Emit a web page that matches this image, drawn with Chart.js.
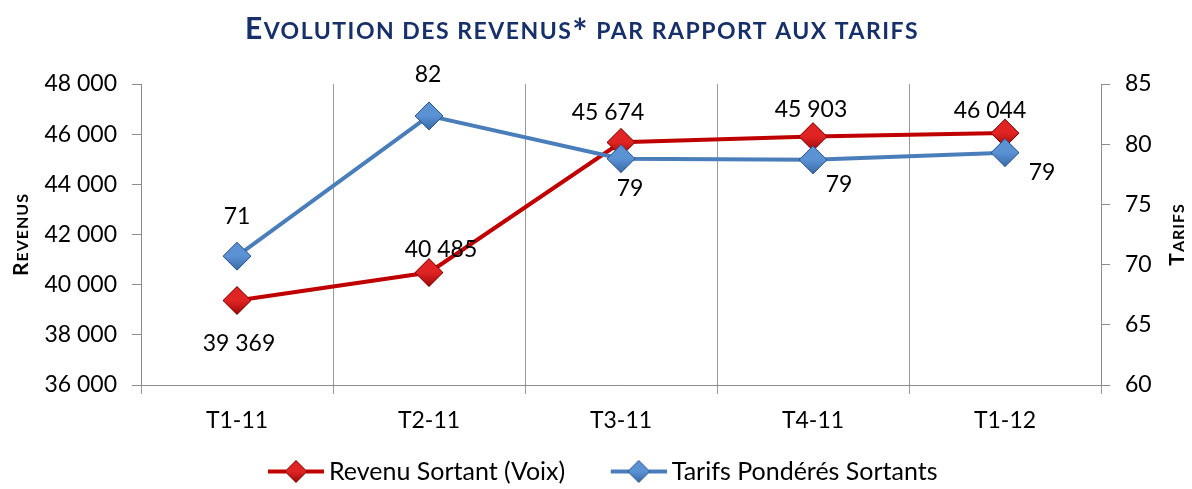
<!DOCTYPE html>
<html lang="fr">
<head>
    <meta charset="UTF-8">
    <title>Evolution des revenus</title>
    <script src="https://cdn.jsdelivr.net/npm/chart.js"></script>
    <style>
        html, body { margin: 0; padding: 0; background: #fff; }
        #wrap { width: 1192px; height: 489px; }
    </style>
</head>
<body>
    <div id="wrap"><canvas id="chart" width="1192" height="489"></canvas></div>
    <script>
        // data
        const periods = ['T1-11', 'T2-11', 'T3-11', 'T4-11', 'T1-12'];
        const revenu = [39369, 40485, 45674, 45903, 46044];
        const tarifs = [70.7, 82.35, 78.8, 78.7, 79.3];
        const tarifsLabels = ['71', '82', '79', '79', '79'];
        const revenuTicks = [36000, 38000, 40000, 42000, 44000, 46000, 48000];
        const tarifsTicks = [60, 65, 70, 75, 80, 85];

        // where each value label sits relative to its marker
        const revenuLabelPos = [[2, 43], [12, -23], [-13, -30], [-2, -27], [-15, -22]];
        const tarifsLabelPos = [[0, -40], [-1, -41], [9, 30], [26, 25], [37, 20]];

        const RED = '#c00000';
        const BLUE = '#4a7ebb';
        const NAVY = '#17306a';
        const FONT = 'Lato, "Open Sans", sans-serif';

        function fmt(v) {
            return String(Math.round(v)).replace(/\B(?=(\d{3})+(?!\d))/g, ' ');
        }

        function diamondPath(g, cx, cy, r) {
            g.beginPath();
            g.moveTo(cx, cy - r); g.lineTo(cx + r, cy); g.lineTo(cx, cy + r); g.lineTo(cx - r, cy);
            g.closePath();
        }

        // shaded diamond marker
        function diamond(r, light, dark, edge) {
            const c = document.createElement('canvas');
            c.width = c.height = 2 * r + 4;
            const g = c.getContext('2d');
            const m = r + 2;
            const grad = g.createLinearGradient(0, 2, 0, 2 * r + 2);
            grad.addColorStop(0, light);
            grad.addColorStop(0.5, light);
            grad.addColorStop(1, dark);
            diamondPath(g, m, m, r);
            g.fillStyle = grad;
            g.fill();
            g.strokeStyle = edge;
            g.lineWidth = 1;
            g.stroke();
            return c;
        }

        // legend swatch: line with diamond in the middle, blank room on the left
        function legendSwatch(color, light, dark, edge) {
            const c = document.createElement('canvas');
            c.width = 107; c.height = 26;
            const g = c.getContext('2d');
            g.strokeStyle = color;
            g.lineWidth = 4;
            g.beginPath(); g.moveTo(51, 13); g.lineTo(107, 13); g.stroke();
            g.drawImage(diamond(11, light, dark, edge), 79 - 13, 0);
            return c;
        }

        const redMarker = diamond(14, '#e02424', '#a00808', '#7a0000');
        const blueMarker = diamond(14, '#5a92d4', '#3a6aa8', '#2a5288');

        const valueLabels = {
            id: 'valueLabels',
            afterDatasetsDraw(chart) {
                const ctx = chart.ctx;
                ctx.save();
                ctx.font = '23px ' + FONT;
                ctx.fillStyle = '#000';
                ctx.textAlign = 'center';
                ctx.textBaseline = 'middle';
                chart.getDatasetMeta(0).data.forEach((p, i) => {
                    ctx.fillText(fmt(revenu[i]), p.x + revenuLabelPos[i][0], p.y + revenuLabelPos[i][1]);
                });
                chart.getDatasetMeta(1).data.forEach((p, i) => {
                    ctx.fillText(tarifsLabels[i], p.x + tarifsLabelPos[i][0], p.y + tarifsLabelPos[i][1]);
                });
                ctx.restore();
            }
        };

        // draw [font, text] pieces one after another from x on baseline y
        function drawPieces(ctx, parts, x, y, spacing) {
            parts.forEach(p => {
                ctx.font = p[0];
                ctx.letterSpacing = spacing;
                ctx.fillText(p[1], x, y + (p[2] || 0));
                x += ctx.measureText(p[1]).width;
            });
        }
        function piecesWidth(ctx, parts, spacing) {
            let w = 0;
            parts.forEach(p => { ctx.font = p[0]; ctx.letterSpacing = spacing; w += ctx.measureText(p[1]).width; });
            return w;
        }

        // small-caps titles
        const titles = {
            id: 'titles',
            afterDraw(chart) {
                const ctx = chart.ctx;
                const ca = chart.chartArea;
                const midY = (ca.top + ca.bottom) / 2;
                ctx.save();
                ctx.textAlign = 'left';
                ctx.textBaseline = 'alphabetic';
                ctx.fillStyle = NAVY;
                const head = [
                    ['bold 30px ' + FONT, 'E'],
                    ['bold 23px ' + FONT, 'VOLUTION DES REVENUS'],
                    ['bold 36px ' + FONT, '*', 6],
                    ['bold 23px ' + FONT, ' PAR RAPPORT AUX TARIFS']
                ];
                const hw = piecesWidth(ctx, head, '1.5px');
                drawPieces(ctx, head, 582 - hw / 2, 39, '1.5px');

                ctx.fillStyle = '#000';
                [[20, [['bold 21px ' + FONT, 'R'], ['bold 16px ' + FONT, 'EVENUS']]],
                 [1176, [['bold 21px ' + FONT, 'T'], ['bold 16px ' + FONT, 'ARIFS']]]].forEach(t => {
                    const w = piecesWidth(ctx, t[1], '1px');
                    ctx.save();
                    ctx.translate(t[0], midY);
                    ctx.rotate(-Math.PI / 2);
                    drawPieces(ctx, t[1], -w / 2, 7.5, '1px');
                    ctx.restore();
                });
                ctx.restore();
            }
        };

        new Chart(document.getElementById('chart'), {
            type: 'line',
            data: {
                labels: periods,
                datasets: [{
                    label: 'Revenu Sortant (Voix)',
                    data: revenu,
                    yAxisID: 'y',
                    order: 1,
                    borderColor: RED,
                    backgroundColor: RED,
                    borderWidth: 4,
                    pointStyle: redMarker,
                    pointRadius: 14,
                    tension: 0
                }, {
                    label: 'Tarifs Pondérés Sortants',
                    data: tarifs,
                    yAxisID: 'y1',
                    order: 0,
                    borderColor: BLUE,
                    backgroundColor: BLUE,
                    borderWidth: 4,
                    pointStyle: blueMarker,
                    pointRadius: 14,
                    tension: 0
                }]
            },
            options: {
                responsive: false,
                animation: false,
                // legend sits a little left of centre and low, hence the uneven padding
                layout: { padding: { left: -15, right: 15, top: 84, bottom: -5 } },
                plugins: {
                    title: { display: false },
                    legend: {
                        position: 'bottom',
                        labels: {
                            usePointStyle: true,
                            pointStyleWidth: 92,
                            color: '#000',
                            font: { family: FONT, size: 25 },
                            padding: 2,
                            generateLabels(chart) {
                                const sw = [
                                    legendSwatch(RED, '#e02424', '#a00808', '#7a0000'),
                                    legendSwatch(BLUE, '#5a92d4', '#3a6aa8', '#2a5288')
                                ];
                                return chart.data.datasets.map((d, i) => ({
                                    text: d.label,
                                    datasetIndex: i,
                                    pointStyle: sw[i],
                                    fillStyle: d.borderColor,
                                    strokeStyle: d.borderColor,
                                    lineWidth: 0,
                                    hidden: false,
                                    fontColor: '#000'
                                }));
                            }
                        }
                    },
                    tooltip: { enabled: false }
                },
                scales: {
                    x: {
                        offset: true,
                        afterFit(axis) { axis.height = 72; },
                        grid: { offset: true, color: '#9a9a9a', tickLength: 9, lineWidth: 1 },
                        border: { color: '#8c8c8c' },
                        ticks: { color: '#000', padding: 13, font: { family: FONT, size: 23 } }
                    },
                    y: {
                        position: 'left',
                        min: 36000,
                        max: 48000,
                        afterFit(axis) { axis.width = 156; },
                        afterBuildTicks(axis) { axis.ticks = revenuTicks.map(v => ({ value: v })); },
                        grid: { drawOnChartArea: false, color: '#8c8c8c', tickLength: 9 },
                        border: { color: '#8c8c8c' },
                        ticks: { color: '#000', padding: 15, font: { family: FONT, size: 23 }, callback: v => fmt(v) }
                    },
                    y1: {
                        position: 'right',
                        min: 60,
                        max: 85,
                        afterFit(axis) { axis.width = 76; },
                        afterBuildTicks(axis) { axis.ticks = tarifsTicks.map(v => ({ value: v })); },
                        grid: { drawOnChartArea: false, color: '#8c8c8c', tickLength: 9 },
                        border: { color: '#8c8c8c' },
                        ticks: { color: '#000', padding: 15, font: { family: FONT, size: 23 } }
                    }
                }
            },
            plugins: [valueLabels, titles]
        });
    </script>
</body>
</html>
